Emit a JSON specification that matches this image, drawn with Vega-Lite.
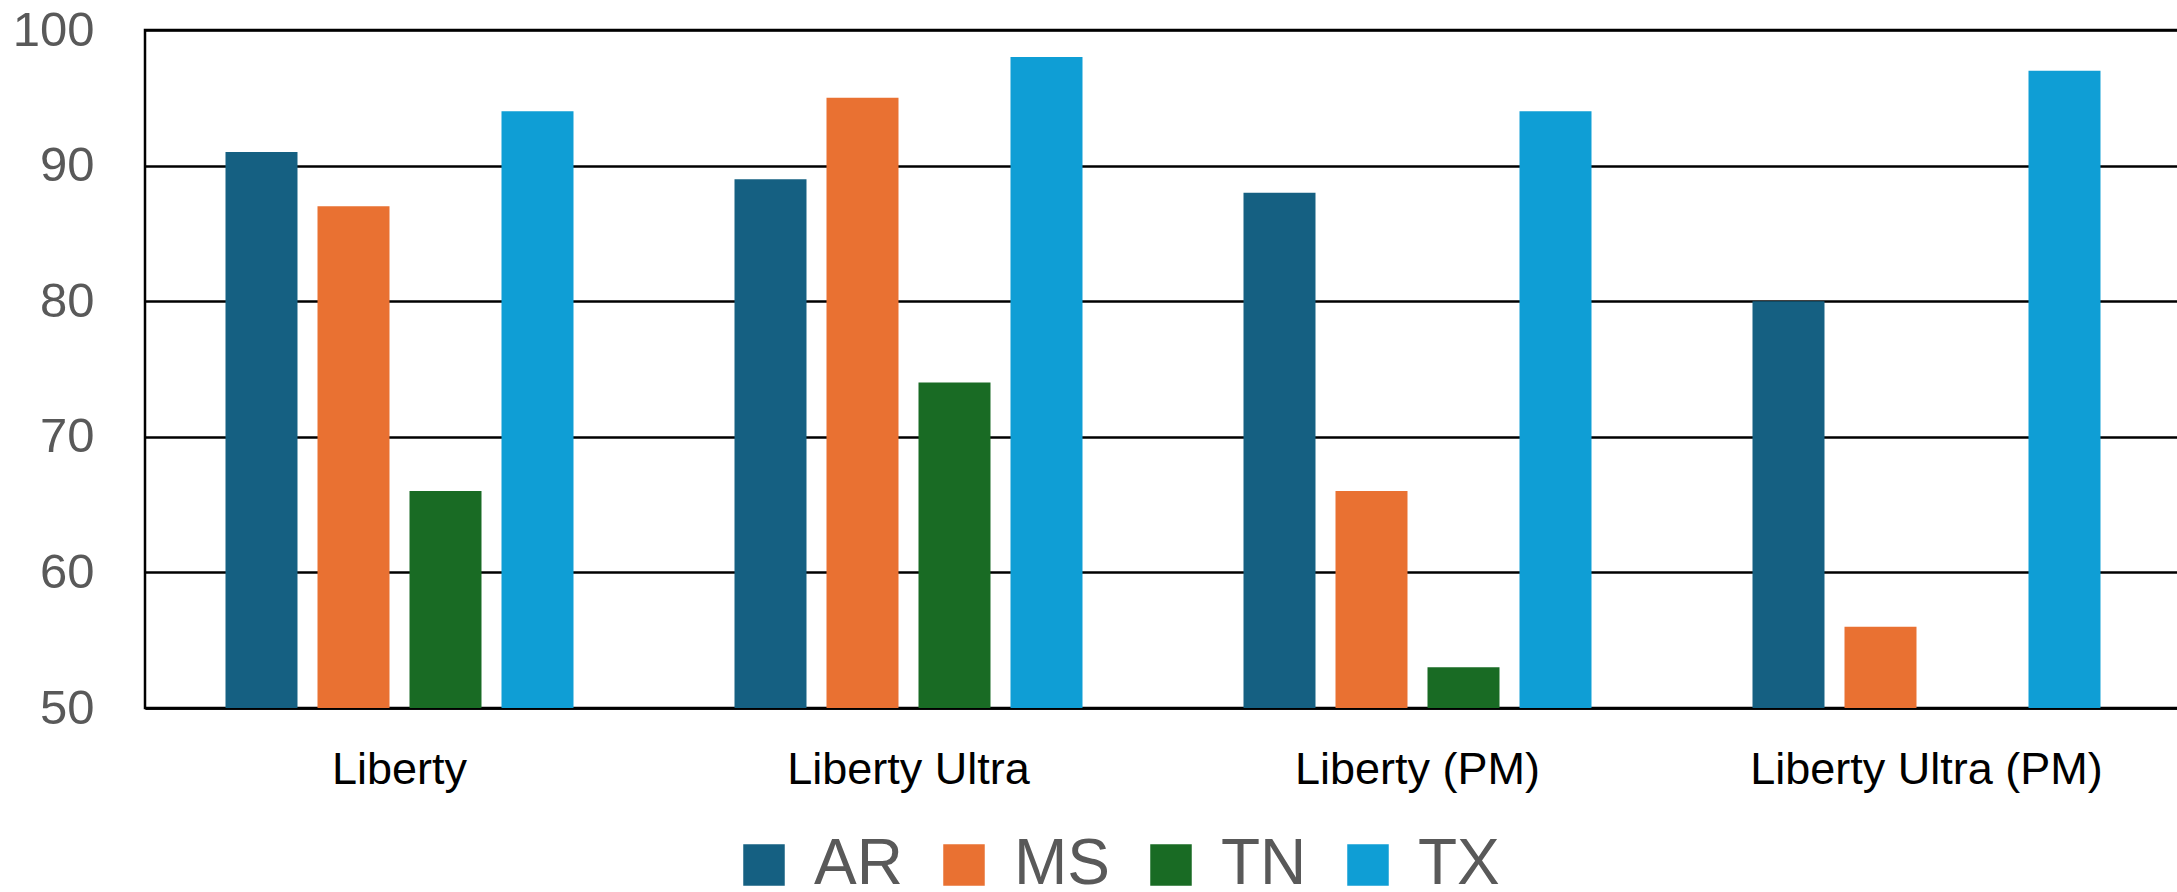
{
  "$schema": "https://vega.github.io/schema/vega-lite/v6.json",
  "width": 2036,
  "height": 678,
  "autosize": {"type": "none"},
  "padding": {"left": 145, "top": 30, "right": 0, "bottom": 184},
  "background": "white",
  "data": {"values": [
    {"model": "Liberty", "state": "AR", "value": 91},
    {"model": "Liberty", "state": "MS", "value": 87},
    {"model": "Liberty", "state": "TN", "value": 66},
    {"model": "Liberty", "state": "TX", "value": 94},
    {"model": "Liberty Ultra", "state": "AR", "value": 89},
    {"model": "Liberty Ultra", "state": "MS", "value": 95},
    {"model": "Liberty Ultra", "state": "TN", "value": 74},
    {"model": "Liberty Ultra", "state": "TX", "value": 98},
    {"model": "Liberty (PM)", "state": "AR", "value": 88},
    {"model": "Liberty (PM)", "state": "MS", "value": 66},
    {"model": "Liberty (PM)", "state": "TN", "value": 53},
    {"model": "Liberty (PM)", "state": "TX", "value": 94},
    {"model": "Liberty Ultra (PM)", "state": "AR", "value": 80},
    {"model": "Liberty Ultra (PM)", "state": "MS", "value": 56},
    {"model": "Liberty Ultra (PM)", "state": "TX", "value": 97}
  ]},
  "mark": {"type": "bar", "clip": true},
  "encoding": {
    "x": {
      "field": "model", "type": "nominal",
      "sort": ["Liberty", "Liberty Ultra", "Liberty (PM)", "Liberty Ultra (PM)"],
      "scale": {"paddingInner": 0, "paddingOuter": 0},
      "axis": {
        "title": null, "labelAngle": 0, "ticks": false, "domain": true,
        "domainColor": "black", "domainWidth": 2.5,
        "labelFont": "Liberation Sans", "labelFontSize": 45, "labelColor": "black",
        "labelPadding": 39, "labelLimit": 0
      }
    },
    "xOffset": {
      "field": "state", "type": "nominal",
      "sort": ["AR", "MS", "TN", "TX"],
      "scale": {"paddingInner": 0.2174, "paddingOuter": 0.875}
    },
    "y": {
      "field": "value", "type": "quantitative",
      "scale": {"domain": [50, 100], "nice": false, "zero": false},
      "axis": {
        "title": null, "values": [50, 60, 70, 80, 90, 100],
        "grid": true, "gridColor": "black", "gridWidth": 2.5, "gridOpacity": 1,
        "domain": false, "ticks": false,
        "labelFont": "Liberation Sans", "labelFontSize": 49, "labelColor": "#595959",
        "labelPadding": 51
      }
    },
    "y2": {"datum": 50},
    "color": {
      "field": "state", "type": "nominal",
      "sort": ["AR", "MS", "TN", "TX"],
      "scale": {"domain": ["AR", "MS", "TN", "TX"], "range": ["#156082", "#E97132", "#196B24", "#0F9ED5"]},
      "legend": {
        "title": null, "orient": "none", "direction": "horizontal",
        "legendX": 587, "legendY": 803,
        "symbolType": "square", "symbolSize": 1722, "symbolStrokeWidth": 0,
        "symbolOpacity": 1,
        "labelFont": "Liberation Sans",
        "labelFontSize": 64, "labelColor": "#595959", "labelOffset": 18,
        "columnPadding": 29, "labelLimit": 400
      }
    }
  },
  "config": {
    "view": {"stroke": "black", "strokeWidth": 2.5}
  }
}
